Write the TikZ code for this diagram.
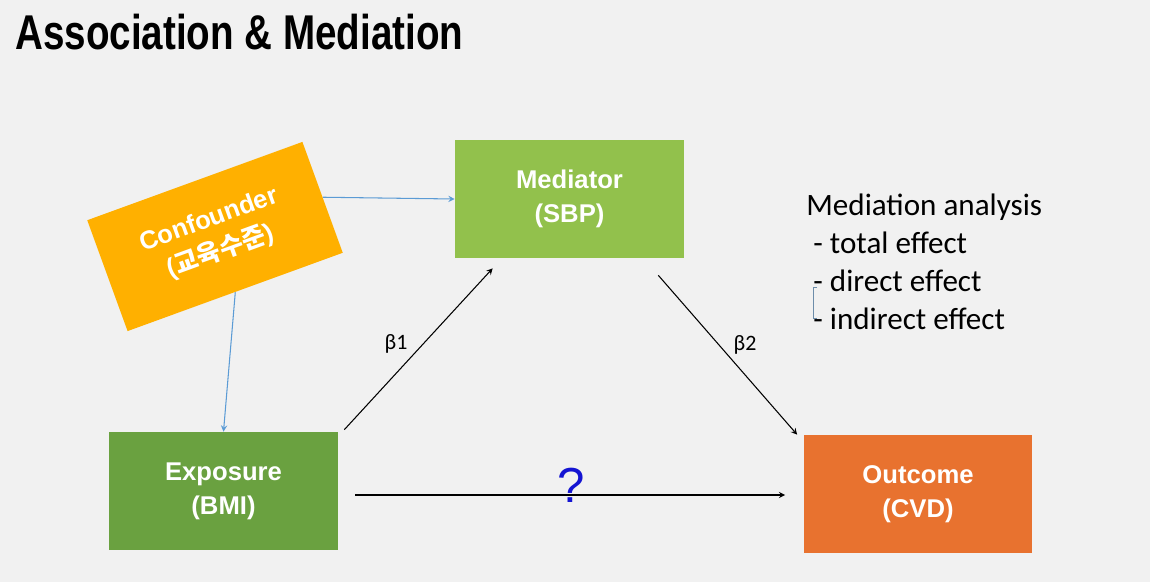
\documentclass[tikz,border=0pt]{standalone}
\usepackage{fontspec}
\setmainfont{Liberation Sans}
\newfontfamily\titlefont[FakeStretch=0.79]{Liberation Sans}
\newfontfamily\krfont{Noto Sans CJK KR}
\newfontfamily\notefont{Carlito}
\definecolor{bgcol}{HTML}{F1F1F1}
\definecolor{confcol}{HTML}{FFB000}
\definecolor{medcol}{HTML}{92C14C}
\definecolor{expcol}{HTML}{6AA140}
\definecolor{outcol}{HTML}{E8722F}
\definecolor{linkblue}{HTML}{5B9BD5}
\definecolor{qblue}{HTML}{1414D2}
\begin{document}
\begin{tikzpicture}[x=0.02cm, y=-0.02cm]

\tikzstyle{box}=[inner sep=0pt, align=center, text=white, minimum width=4.58cm, minimum height=2.36cm, font=\bfseries\fontsize{14.6}{19.4}\selectfont];
\tikzstyle{e}=[->, >=stealth, line width=0.6pt];
\tikzstyle{eb}=[->, >=stealth, linkblue, line width=0.6pt];

\fill[bgcol] (0,0) rectangle (1150,582);

\node[anchor=west, inner sep=0pt, font=\titlefont\bfseries\fontsize{27.8}{30}\selectfont] (title) at (15,32) {Association \& Mediation};

\node[box, fill=confcol, rotate=20] (conf) at (215,236.5) {Confounder\\({\krfont 교육수준})};
\node[box, fill=medcol] (med) at (569.5,199) {Mediator\\(SBP)};
\node[box, fill=expcol] (expo) at (223.5,491) {Exposure\\(BMI)};
\node[box, fill=outcol] (outc) at (918,494) {Outcome\\(CVD)};

\draw[eb] (conf.east) -- (med.west);
\draw[eb] (conf.south) -- (expo.north);

\draw[e] ([shift={(6,-2)}]expo.north east) -- ([shift={(38,10)}]med.south west);
\draw[e] ([shift={(-26,17)}]med.south east) -- ([shift={(-6,0)}]outc.north west);
\draw[e] ([shift={(17,4)}]expo.east) -- ([shift={(-18,1)}]outc.west);

\node[font=\notefont\fontsize{12.5}{14}\selectfont] (b1) at (396,344) {β1};
\node[font=\notefont\fontsize{12.5}{14}\selectfont] (b2) at (745,345) {β2};
\node[qblue, font=\fontsize{28}{30}\selectfont] (q) at (571,485) {?};

\node[anchor=north west, inner sep=0pt, align=left, font=\notefont\fontsize{17.7}{21.6}\selectfont] (notes) at (806,194) {Mediation analysis\\\hspace*{4pt}- total effect\\\hspace*{4pt}- direct effect\\\hspace*{4pt}- indirect effect};
%\draw[linkblue!60!gray] (817,287) -- (813,287) -- (813,318) -- (817,318);
\draw[linkblue!50!gray, line width=0.4pt] (817,287) -- (813,287) -- (813,318) -- (817,318);

\end{tikzpicture}
\end{document}
